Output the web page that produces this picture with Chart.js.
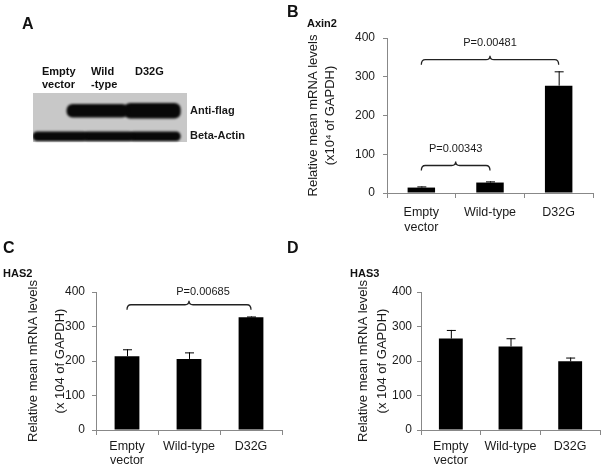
<!DOCTYPE html>
<html>
<head>
<meta charset="utf-8">
<script src="https://cdn.jsdelivr.net/npm/chart.js@4.4.1/dist/chart.umd.min.js"></script>
<style>
body { margin: 0; background: #fff; font-family: "Liberation Sans", Arial, sans-serif; }
#wrap { position: relative; width: 605px; height: 471px; overflow: hidden; }
.box { position: absolute; }
.lbl { position: absolute; font-weight: bold; color: #111; white-space: nowrap; line-height: 1; }
.panel { font-size: 16px; }
.gene { font-size: 11px; }
.lane { font-size: 11px; line-height: 13px; }
</style>
</head>
<body>
<div id="wrap">
  <div class="box" style="left:0;top:0"><canvas id="blot" width="300" height="160"></canvas></div>
  <div class="box" style="left:300px;top:0"><canvas id="axin2" width="305" height="240"></canvas></div>
  <div class="box" style="left:0;top:235px"><canvas id="has2" width="300" height="236"></canvas></div>
  <div class="box" style="left:300px;top:235px"><canvas id="has3" width="305" height="236"></canvas></div>

  <div class="lbl panel" style="left:22px;top:16px">A</div>
  <div class="lbl panel" style="left:287px;top:4px">B</div>
  <div class="lbl panel" style="left:3px;top:240px">C</div>
  <div class="lbl panel" style="left:287px;top:240px">D</div>
  <div class="lbl gene" style="left:307px;top:18px">Axin2</div>
  <div class="lbl gene" style="left:3px;top:268px">HAS2</div>
  <div class="lbl gene" style="left:350px;top:268px">HAS3</div>
  <div id="lanes"></div>
</div>
<script>
// groups and tick labels
var groups = ['Empty vector', 'Wild-type', 'D32G'];
var groupTicks = [['Empty', 'vector'], 'Wild-type', 'D32G'];
var yTicks = [0, 100, 200, 300, 400];

// B: Axin2
var axin2Mean = [14, 27, 277];
var axin2Err = [3, 3, 37];
var axin2Pairs = [[0, 1], [0, 2]];
var axin2PLevels = [71, 344];
var axin2PText = ['P=0.00343', 'P=0.00481'];

// C: HAS2
var has2Mean = [214, 206, 327];
var has2Err = [20, 19, 2];
var has2Pairs = [[0, 2]];
var has2PLevels = [363];
var has2PText = ['P=0.00685'];

// D: HAS3
var has3Mean = [265, 242, 199];
var has3Err = [25, 24, 11];

// A: western blot, bands in lane units (0-3), null = no band
var blotRows = ['Anti-flag', 'Beta-Actin'];
var blotLanes = [['Empty', 'vector'], ['Wild', '-type'], ['D32G']];
var antiFlagBands = [null, [0.66, 1.85], [1.78, 2.87]];
var actinBands = [[0.0, 1.05], [0.98, 1.95], [1.88, 2.87]];

var FONT = '"Liberation Sans", Arial, sans-serif';
var AXIS = '#888';
var TXT = '#1a1a1a';

var errPlugin = {
  id: 'errBars',
  afterDatasetsDraw: function(chart, args, opts) {
    var ctx = chart.ctx, y = chart.scales.y;
    var meta = chart.getDatasetMeta(0);
    var means = chart.data.datasets[0].data;
    ctx.save();
    ctx.strokeStyle = '#000';
    ctx.lineWidth = 1;
    meta.data.forEach(function(bar, i) {
      var top = y.getPixelForValue(means[i] + opts.errs[i]);
      var base = y.getPixelForValue(means[i]);
      ctx.beginPath();
      ctx.moveTo(bar.x + 0.5, base);
      ctx.lineTo(bar.x + 0.5, top);
      ctx.moveTo(bar.x - 4, top + 0.5);
      ctx.lineTo(bar.x + 5, top + 0.5);
      ctx.stroke();
    });
    ctx.restore();
  }
};

var bracketPlugin = {
  id: 'brackets',
  afterDatasetsDraw: function(chart, args, opts) {
    if (!opts.pairs) return;
    var ctx = chart.ctx, xs = chart.scales.x, ys = chart.scales.y;
    ctx.save();
    ctx.strokeStyle = '#222';
    ctx.lineWidth = 1.3;
    ctx.fillStyle = TXT;
    ctx.font = '11px ' + FONT;
    ctx.textAlign = 'center';
    ctx.textBaseline = 'middle';
    opts.pairs.forEach(function(p, k) {
      var x1 = xs.getPixelForValue(p[0]), x2 = xs.getPixelForValue(p[1]);
      var y = ys.getPixelForValue(opts.levels[k]);
      var xm = (x1 + x2) / 2;
      ctx.beginPath();
      ctx.moveTo(x1, y + 5);
      ctx.quadraticCurveTo(x1, y, x1 + 4, y);
      ctx.lineTo(xm - 4, y);
      ctx.quadraticCurveTo(xm, y, xm, y - 4);
      ctx.quadraticCurveTo(xm, y, xm + 4, y);
      ctx.lineTo(x2 - 4, y);
      ctx.quadraticCurveTo(x2, y, x2, y + 5);
      ctx.stroke();
      ctx.fillText(opts.texts[k], xm + (opts.textShift || 0), y - opts.textGap);
    });
    ctx.restore();
  }
};

function makeBar(id, means, errs, brk, o) {
  return new Chart(document.getElementById(id), {
    type: 'bar',
    data: {
      labels: groupTicks,
      datasets: [{ label: id, data: means, backgroundColor: '#000', barPercentage: 0.4, categoryPercentage: 1 }]
    },
    options: {
      responsive: false,
      animation: false,
      layout: { padding: o.pad },
      plugins: {
        legend: { display: false },
        tooltip: { enabled: false },
        errBars: { errs: errs },
        brackets: brk
      },
      scales: {
        x: {
          grid: { drawOnChartArea: false, offset: true, tickLength: 5, color: AXIS },
          border: { color: AXIS },
          ticks: { color: TXT, padding: o.xpad, font: { family: FONT, size: 12.5, lineHeight: o.xlh } },
          afterFit: function(s) { s.height = o.xh; }
        },
        y: {
          min: 0, max: 400,
          afterBuildTicks: function(s) { s.ticks = yTicks.map(function(v) { return { value: v }; }); },
          grid: { drawOnChartArea: false, tickLength: 4, color: AXIS },
          border: { color: AXIS },
          ticks: { color: TXT, padding: o.ypad, font: { family: FONT, size: 12 } },
          title: {
            display: true, text: o.ytitle, color: TXT,
            font: { family: FONT, size: 13, lineHeight: o.tlh / 13 },
            padding: { top: o.tpad, bottom: 0 }
          },
          afterFit: function(s) { s.width = o.yw; }
        }
      }
    },
    plugins: [errPlugin, bracketPlugin]
  });
}

makeBar('axin2', axin2Mean, axin2Err,
  { pairs: axin2Pairs, levels: axin2PLevels, texts: axin2PText, textGap: 17 },
  { pad: { left: 0, top: 38, right: 12, bottom: 0 }, yw: 87, xh: 47, xpad: 7, xlh: 15 / 12.5, ypad: 8,
    ytitle: ['Relative mean mRNA levels', '(x10\u2074 of GAPDH)'], tlh: 17, tpad: 5 });

makeBar('has2', has2Mean, has2Err,
  { pairs: has2Pairs, levels: has2PLevels, texts: has2PText, textGap: 13, textShift: 14 },
  { pad: { left: 0, top: 57, right: 18, bottom: 0 }, yw: 96, xh: 41, xpad: 5, xlh: 14 / 12.5, ypad: 7,
    ytitle: ['Relative mean mRNA levels', '(x 104 of GAPDH)'], tlh: 27, tpad: 19.5 });

makeBar('has3', has3Mean, has3Err,
  {},
  { pad: { left: 0, top: 57, right: 5, bottom: 0 }, yw: 121, xh: 41, xpad: 5, xlh: 14 / 12.5, ypad: 5,
    ytitle: ['Relative mean mRNA levels', '(x 104 of GAPDH)'], tlh: 19, tpad: 53.5 });

// blot: one floating-bar dataset per lane and row
var blotSets = [];
var flagThick = [12, 13, 15];
antiFlagBands.forEach(function(b, i) {
  if (b) blotSets.push({ data: [b, null], barThickness: flagThick[i] });
});
actinBands.forEach(function(b) {
  if (b) blotSets.push({ data: [null, b], barThickness: 9 });
});
blotSets.forEach(function(d) {
  d.backgroundColor = '#080808';
  d.grouped = false;
  d.borderSkipped = false;
  d.borderRadius = 6;
});

var blotBg = {
  id: 'blotBg',
  beforeDatasetsDraw: function(chart) {
    var a = chart.chartArea, ctx = chart.ctx;
    ctx.save();
    ctx.fillStyle = '#c8c8c8';
    ctx.fillRect(a.left, a.top - 5, a.right - a.left, a.bottom - a.top - 2);
    ctx.filter = 'blur(1.3px)';
  },
  afterDatasetsDraw: function(chart) { chart.ctx.restore(); }
};

new Chart(document.getElementById('blot'), {
  type: 'bar',
  data: { labels: blotRows, datasets: blotSets },
  options: {
    indexAxis: 'y',
    responsive: false,
    animation: false,
    layout: { padding: { left: 33, top: 98, bottom: 11, right: 0 } },
    plugins: { legend: { display: false }, tooltip: { enabled: false } },
    scales: {
      x: { type: 'linear', min: 0, max: 3, display: false },
      y: {
        position: 'right',
        grid: { display: false },
        border: { display: false },
        ticks: { color: TXT, padding: -5, font: { family: FONT, size: 11, weight: 'bold' } },
        afterFit: function(s) { s.width = 113; }
      }
    }
  },
  plugins: [blotBg]
});

// lane labels above the blot
var laneX = [42, 91, 135];
var lanesDiv = document.getElementById('lanes');
blotLanes.forEach(function(l, i) {
  var d = document.createElement('div');
  d.className = 'lbl lane';
  d.style.left = laneX[i] + 'px';
  d.style.top = '65px';
  d.innerHTML = l.join('<br>');
  lanesDiv.appendChild(d);
});
</script>
</body>
</html>
